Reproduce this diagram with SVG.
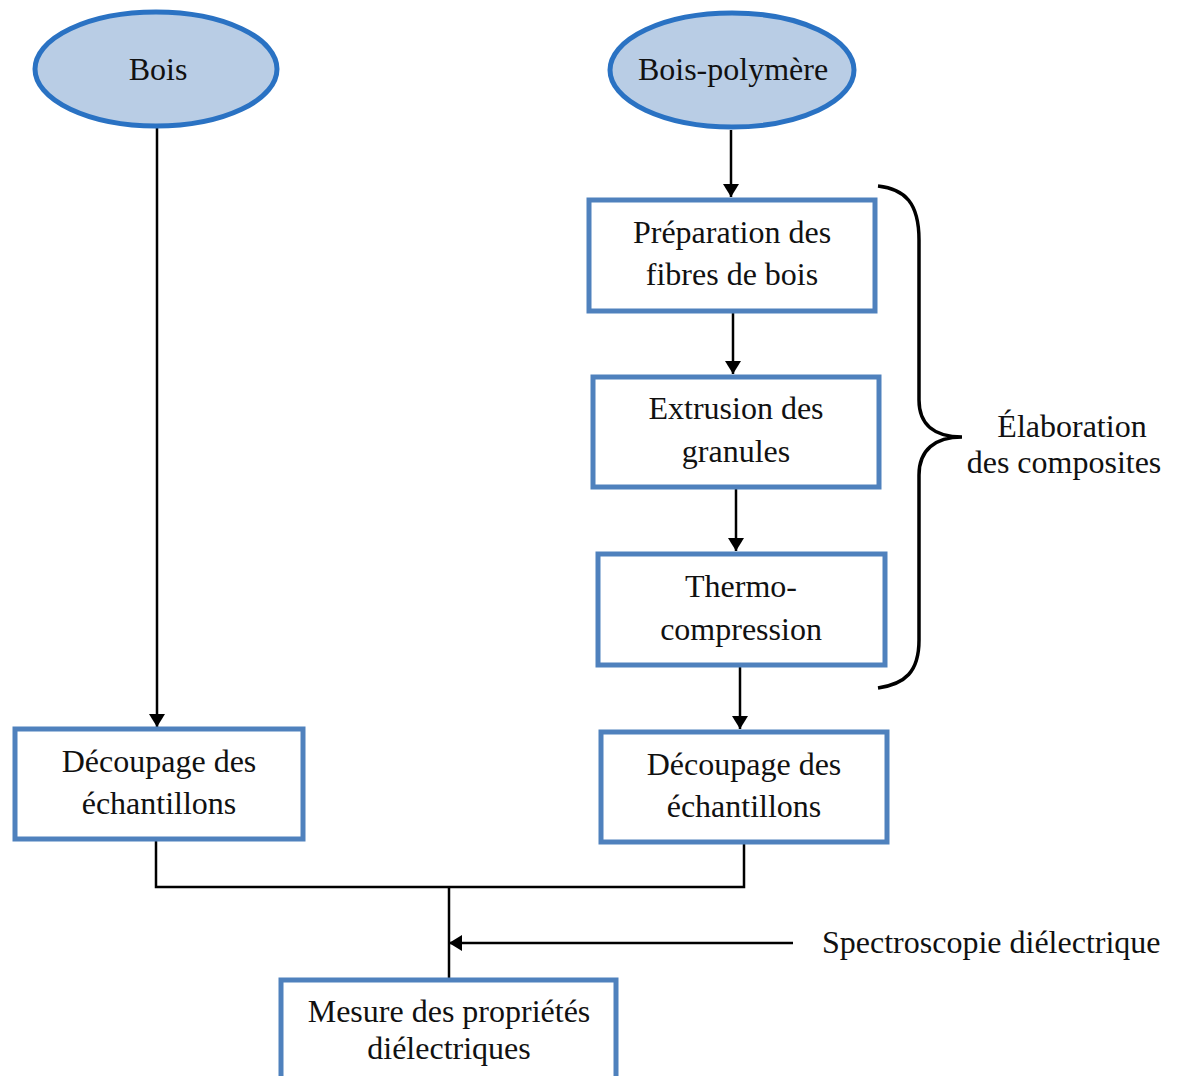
<svg xmlns="http://www.w3.org/2000/svg" width="1177" height="1076" viewBox="0 0 1177 1076">
<defs>
<style>
.ell{fill:#b9cde5;stroke:#2a72c3;stroke-width:5}
.box{fill:#fff;stroke:#4f81bd;stroke-width:5}
.t{font-family:"Liberation Serif","Times New Roman",serif;font-size:32px;fill:#111;text-anchor:middle}
.ln{fill:none;stroke:#000;stroke-width:2.5}
.brace{fill:none;stroke:#000;stroke-width:3.5}
</style>
<marker id="ah" viewBox="0 0 13 16" refX="13" refY="8" markerWidth="13" markerHeight="16" markerUnits="userSpaceOnUse" orient="auto">
<path d="M0,0 L13,8 L0,16 Z" fill="#000"/>
</marker>
</defs>
<rect width="1177" height="1076" fill="#fff"/>
<g id="connectors">
<line class="ln" x1="157" y1="128" x2="157" y2="727" marker-end="url(#ah)"/>
<line class="ln" x1="731" y1="130" x2="731" y2="197" marker-end="url(#ah)"/>
<line class="ln" x1="733" y1="313" x2="733" y2="374" marker-end="url(#ah)"/>
<line class="ln" x1="736" y1="489" x2="736" y2="551" marker-end="url(#ah)"/>
<line class="ln" x1="740" y1="667" x2="740" y2="729" marker-end="url(#ah)"/>
<polyline class="ln" points="156,841 156,887 744,887 744,844"/>
<line class="ln" x1="449" y1="887" x2="449" y2="979"/>
<line class="ln" x1="793" y1="943" x2="449" y2="943" marker-end="url(#ah)"/>
<path class="brace" d="M878,186 C905,189 919,203 919,240 L919,400 C919,425 935,437 962,437 C935,437 919,450 919,475 L919,640 C919,672 905,684 878,688"/>
</g>
<g id="bois"><ellipse class="ell" cx="156" cy="69" rx="121" ry="57"/><text class="t" x="158" y="80">Bois</text></g>
<g id="bois-polymere"><ellipse class="ell" cx="732" cy="70" rx="122" ry="57"/><text class="t" x="733" y="80">Bois-polymère</text></g>
<g id="preparation"><rect class="box" x="589" y="200" width="286" height="111"/><text class="t" x="732" y="243">Préparation des</text><text class="t" x="732" y="285">fibres de bois</text></g>
<g id="extrusion"><rect class="box" x="593" y="377" width="286" height="110"/><text class="t" x="736" y="419">Extrusion des</text><text class="t" x="736" y="462">granules</text></g>
<g id="thermo"><rect class="box" x="598" y="554" width="287" height="111"/><text class="t" x="741" y="597">Thermo-</text><text class="t" x="741" y="640">compression</text></g>
<g id="decoupage-droite"><rect class="box" x="601" y="732" width="286" height="110"/><text class="t" x="744" y="775">Découpage des</text><text class="t" x="744" y="817">échantillons</text></g>
<g id="decoupage-gauche"><rect class="box" x="15" y="729" width="288" height="110"/><text class="t" x="159" y="772">Découpage des</text><text class="t" x="159" y="814">échantillons</text></g>
<g id="mesure"><rect class="box" x="281" y="980" width="335" height="110"/><text class="t" x="449" y="1022">Mesure des propriétés</text><text class="t" x="449" y="1059">diélectriques</text></g>
<g id="elaboration"><text class="t" x="1072" y="437">Élaboration</text><text class="t" x="1064" y="473">des composites</text></g>
<g id="spectroscopie"><text class="t" x="822" y="953" style="text-anchor:start">Spectroscopie diélectrique</text></g>
</svg>
